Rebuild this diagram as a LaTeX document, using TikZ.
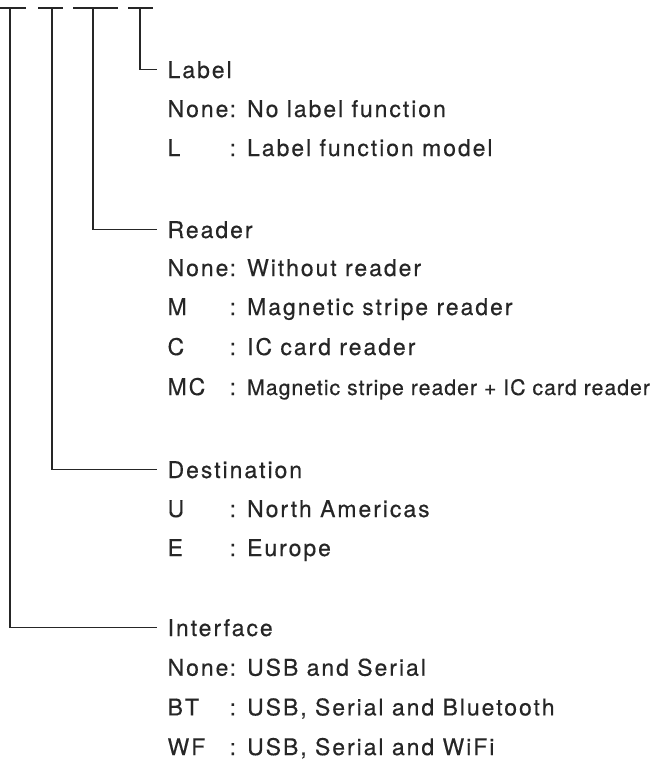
\documentclass[tikz,border=0pt]{standalone}
\usepackage{fontspec}
\setmainfont{TeX Gyre Heros}[LetterSpace=8.5,FakeBold=0.4]
\newfontfamily\tightfont{TeX Gyre Heros}[LetterSpace=4.5,FakeBold=0.4]
\begin{document}
\begin{tikzpicture}[x=0.75pt,y=-0.75pt,line width=0.9pt,color=black!85,
    every node/.style={inner sep=0pt,anchor=base west,
      font=\fontsize{17.25}{20}\selectfont},
    head/.style={inner xsep=7.5pt}]
  \useasboundingbox (0,0) rectangle (667,760);
  % underlines of the model name
  \draw (0,8) -- (26,8) (38,8) -- (63,8) (73,8) -- (118,8) (128,8) -- (153,8);
  \coordinate (iftop) at (10,8);
  \coordinate (dsttop) at (52,8);
  \coordinate (rdtop) at (93,8);
  \coordinate (lbtop) at (140,8);
  % Label
  \node[head] (label) at (157,78) {Label};
  \foreach \k/\d [count=\i] in {None/No label function, L/Label function model}
  {
    \node (lbkey\i) at (167,78+39*\i) {\k};
    \node (lbdesc\i) at (229,78+39*\i) {: \d};
  }
  % Reader
  \node[head] (reader) at (157,238) {Reader};
  \foreach \k/\d/\y [count=\i] in {None/Without reader/276, M/Magnetic stripe reader/315, C/IC card reader/355}
  {
    \node (rdkey\i) at (167,\y) {\k};
    \node (rddesc\i) at (229,\y) {: \d};
  }
  \node (rdkey4) at (167,395) {MC};
  \node (rddesc4) at (229,395) {: \tightfont\fontsize{16}{20}\selectfont Magnetic stripe reader + IC card reader};
  % Destination
  \node[head] (dest) at (157,478) {Destination};
  \foreach \k/\d [count=\i] in {U/North Americas, E/Europe}
  {
    \node (dstkey\i) at (167,478+39*\i) {\k};
    \node (dstdesc\i) at (229,478+39*\i) {: \d};
  }
  % Interface
  \node[head] (iface) at (157,636) {Interface};
  \foreach \k/\d [count=\i] in {None/USB and Serial, {BT/USB, Serial and Bluetooth}, {WF/USB, Serial and WiFi}}
  {
    \node (ifkey\i) at (167,636+39.7*\i) {\k};
    \node (ifdesc\i) at (229,636+39.7*\i) {: \d};
  }
  % connectors
  \draw (lbtop) |- (label.west);
  \draw (rdtop) |- (reader.west);
  \draw (dsttop) |- (dest.west);
  \draw (iftop) |- (iface.west);
\end{tikzpicture}
\end{document}
